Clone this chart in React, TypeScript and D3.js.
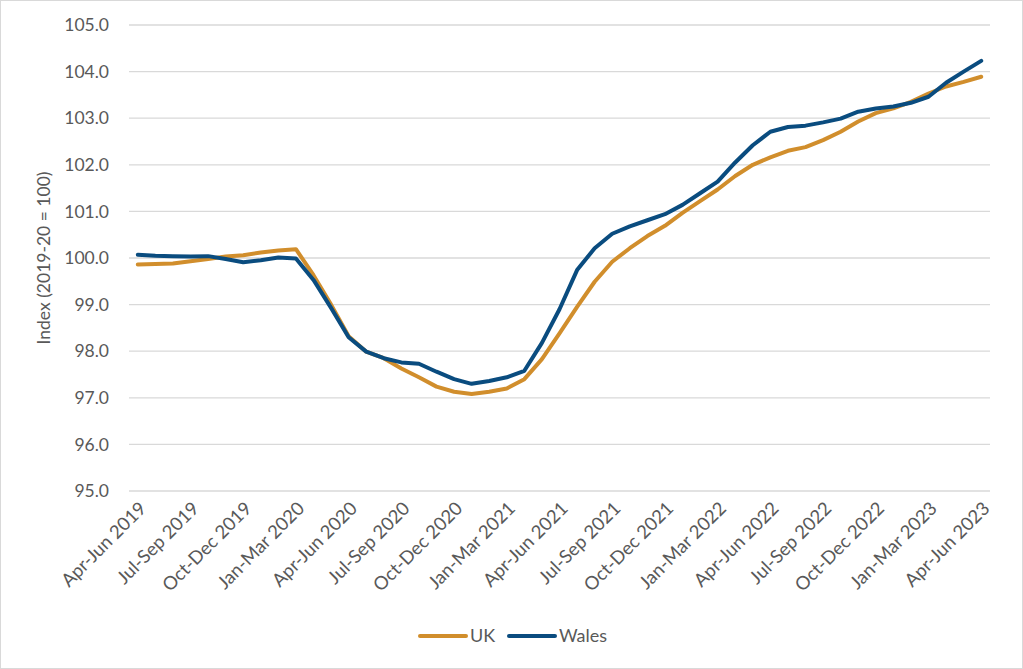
import { useEffect, useRef } from 'react';
import * as d3 from 'd3';

const periods = [
  'Apr-Jun 2019', 'May-Jul 2019', 'Jun-Aug 2019', 'Jul-Sep 2019', 'Aug-Oct 2019', 'Sep-Nov 2019',
  'Oct-Dec 2019', 'Nov-Jan 2020', 'Dec-Feb 2020', 'Jan-Mar 2020', 'Feb-Apr 2020', 'Mar-May 2020',
  'Apr-Jun 2020', 'May-Jul 2020', 'Jun-Aug 2020', 'Jul-Sep 2020', 'Aug-Oct 2020', 'Sep-Nov 2020',
  'Oct-Dec 2020', 'Nov-Jan 2021', 'Dec-Feb 2021', 'Jan-Mar 2021', 'Feb-Apr 2021', 'Mar-May 2021',
  'Apr-Jun 2021', 'May-Jul 2021', 'Jun-Aug 2021', 'Jul-Sep 2021', 'Aug-Oct 2021', 'Sep-Nov 2021',
  'Oct-Dec 2021', 'Nov-Jan 2022', 'Dec-Feb 2022', 'Jan-Mar 2022', 'Feb-Apr 2022', 'Mar-May 2022',
  'Apr-Jun 2022', 'May-Jul 2022', 'Jun-Aug 2022', 'Jul-Sep 2022', 'Aug-Oct 2022', 'Sep-Nov 2022',
  'Oct-Dec 2022', 'Nov-Jan 2023', 'Dec-Feb 2023', 'Jan-Mar 2023', 'Feb-Apr 2023', 'Mar-May 2023',
  'Apr-Jun 2023',
];

const ukValues = [
  99.86, 99.87, 99.88, 99.93, 99.98, 100.03, 100.06, 100.12, 100.16, 100.19, 99.63, 99.0,
  98.32, 97.99, 97.85, 97.63, 97.44, 97.24, 97.13, 97.08, 97.13, 97.2, 97.4, 97.83,
  98.38, 98.95, 99.49, 99.92, 100.21, 100.47, 100.69, 100.97, 101.22, 101.47, 101.76, 102.0,
  102.16, 102.3, 102.38, 102.53, 102.71, 102.93, 103.11, 103.21, 103.35, 103.53, 103.68, 103.78,
  103.89,
];

const walesValues = [
  100.07, 100.05, 100.04, 100.03, 100.04, 99.98, 99.91, 99.95, 100.01, 99.99, 99.53, 98.93,
  98.3, 97.99, 97.85, 97.76, 97.73, 97.56, 97.4, 97.3, 97.36, 97.44, 97.58, 98.18,
  98.9, 99.74, 100.21, 100.52, 100.68, 100.81, 100.94, 101.14, 101.39, 101.64, 102.05, 102.42,
  102.71, 102.81, 102.84, 102.91, 102.99, 103.14, 103.21, 103.25, 103.33, 103.46, 103.76, 104.0,
  104.23,
];

const yTicks = [95, 96, 97, 98, 99, 100, 101, 102, 103, 104, 105];

const seriesNames = ['UK', 'Wales'];
const seriesColors = ['#D18E2C', '#0A4C7F'];

export default function App() {
  const svgRef = useRef<SVGSVGElement>(null);

  useEffect(() => {
    if (!svgRef.current) {
      return;
    }

    const width = 1023;
    const height = 669;
    const left = 129;
    const right = 990;
    const top = 25;
    const bottom = 491;
    const font = 'Lato, "Open Sans", sans-serif';
    const textColor = '#595959';

    const svg = d3.select(svgRef.current).attr('width', width).attr('height', height);
    svg.selectAll('*').remove();

    svg
      .append('rect')
      .attr('x', 0.5)
      .attr('y', 0.5)
      .attr('width', width - 1)
      .attr('height', height - 1)
      .attr('fill', '#fff')
      .attr('stroke', '#d9d9d9');

    const x = d3.scaleBand<string>().domain(periods).range([left, right]).padding(0);
    const y = d3.scaleLinear().domain([95, 105]).range([bottom, top]);
    const cx = (p: string) => (x(p) ?? 0) + x.bandwidth() / 2;

    // gridlines + y labels
    const yg = svg.append('g');
    yg.selectAll('line')
      .data(yTicks)
      .enter()
      .append('line')
      .attr('x1', left)
      .attr('x2', right)
      .attr('y1', (d) => y(d))
      .attr('y2', (d) => y(d))
      .attr('stroke', '#d9d9d9')
      .attr('stroke-width', 1.3);

    yg.selectAll('text')
      .data(yTicks)
      .enter()
      .append('text')
      .attr('x', 109)
      .attr('y', (d) => y(d))
      .attr('dy', '0.35em')
      .attr('text-anchor', 'end')
      .style('font-family', font)
      .style('font-size', '17.5px')
      .attr('fill', textColor)
      .text((d) => d3.format('.1f')(d));

    svg
      .append('text')
      .attr('transform', `translate(50,${(top + bottom) / 2})rotate(-90)`)
      .attr('text-anchor', 'middle')
      .style('font-family', font)
      .style('font-size', '17.5px')
      .attr('fill', textColor)
      .text('Index (2019-20 = 100)');

    // x labels every third period
    svg
      .append('g')
      .selectAll('text')
      .data(periods.filter((_p, i) => i % 3 === 0))
      .enter()
      .append('text')
      .attr('transform', (d) => `translate(${cx(d) + 5},${bottom + 14})rotate(-45)`)
      .attr('text-anchor', 'end')
      .attr('dy', '0.35em')
      .style('font-family', font)
      .style('font-size', '18.5px')
      .attr('fill', textColor)
      .text((d) => d);

    const line = d3
      .line<number>()
      .x((_d, i) => cx(periods[i]))
      .y((d) => y(d));

    [ukValues, walesValues].forEach((vals, s) => {
      svg
        .append('path')
        .datum(vals)
        .attr('d', line)
        .attr('fill', 'none')
        .attr('stroke', seriesColors[s])
        .attr('stroke-width', 4)
        .attr('stroke-linejoin', 'round')
        .attr('stroke-linecap', 'round');
    });

    // legend
    const legendX = [420, 509];
    const legendY = 636;
    seriesNames.forEach((name, s) => {
      svg
        .append('line')
        .attr('x1', legendX[s])
        .attr('x2', legendX[s] + 46)
        .attr('y1', legendY)
        .attr('y2', legendY)
        .attr('stroke', seriesColors[s])
        .attr('stroke-width', 4)
        .attr('stroke-linecap', 'round');
      svg
        .append('text')
        .attr('x', legendX[s] + 50)
        .attr('y', legendY)
        .attr('dy', '0.35em')
        .style('font-family', font)
        .style('font-size', '18px')
        .attr('fill', textColor)
        .text(name);
    });
  }, []);

  return (
    <div style={{ position: 'absolute', left: 0, top: 0 }}>
      <svg ref={svgRef} style={{ display: 'block' }} />
    </div>
  );
}
